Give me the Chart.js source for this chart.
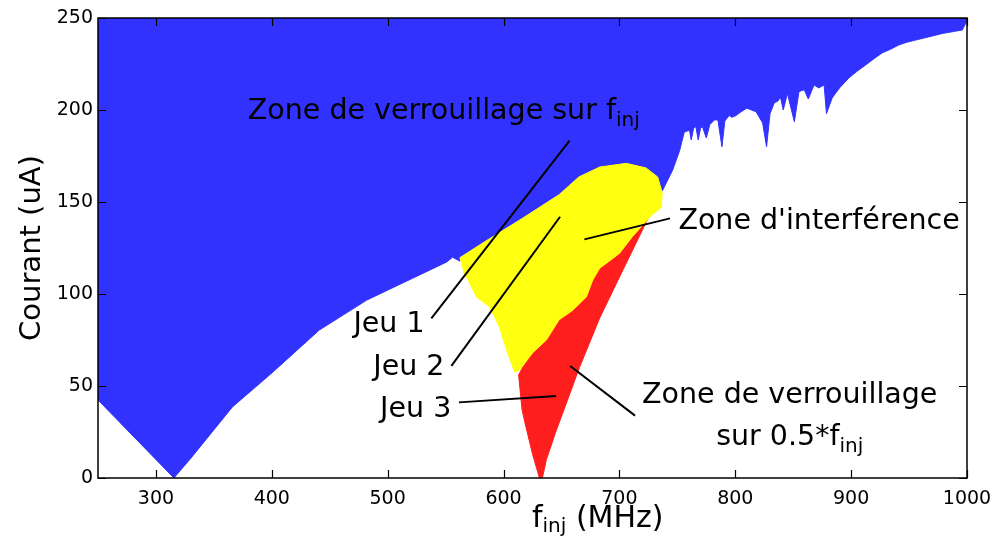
<!DOCTYPE html>
<html>
<head>
<meta charset="utf-8">
<script src="https://cdn.jsdelivr.net/npm/chart.js@4.4.1/dist/chart.umd.min.js"></script>
<style>
  html, body { margin: 0; padding: 0; background: #fff; }
</style>
</head>
<body>
<canvas id="myChart" width="997" height="541"></canvas>
<script>
const xTicks = [300, 400, 500, 600, 700, 800, 900, 1000];
const yTicks = [0, 50, 100, 150, 200, 250];

// bord inferieur de la zone de verrouillage sur f_inj (bleu, rempli jusqu'en haut)
const blueX = [250, 315.5, 331, 366, 401, 441, 482, 522, 551, 556, 562, 582, 616, 648, 680, 720, 737,
  746, 752, 756, 760.5, 762, 764, 766, 768, 770, 771.6, 775, 778, 782, 785, 788.5, 791, 794.8, 797, 800.6,
  805, 810, 818, 823.6, 827, 830, 833.6, 837, 839, 841.4, 845, 851, 855, 859.5, 863, 868, 872, 876.7,
  878.7, 883.6, 890, 898, 905, 912.6, 920, 926.7, 934, 941, 948, 955.7, 964, 972, 978.7, 988, 996, 999, 1000];
const blueY = [42.4, 0, 11.4, 38.6, 57.6, 80.4, 96.7, 108.7, 117.4, 120, 118, 125, 138, 150, 160, 160, 156,
  167.4, 178, 188, 189, 183.7, 190, 191, 183.7, 190, 191, 184.8, 192, 194.6, 194.6, 180, 194, 197, 196, 197,
  199, 201, 199, 193, 180, 198, 203.8, 205, 207, 200, 209, 193.6, 210, 211, 206, 213.6, 212, 213.6,
  198, 206.5, 212, 217.4, 221, 224.5, 228, 231, 233, 235.3, 236.8, 238, 239.3, 240.5, 241.6, 242.6, 243.5, 247.3, 248];

// zone d'interference (jaune)
const yellowX = [562, 582, 616, 648, 665, 683, 706, 723, 733, 737, 736, 728, 711, 700, 683, 677, 671.5,
  659.5, 648, 637, 625, 614, 609.5, 602.6, 596.5, 588, 576.7, 570.7, 565];
const yellowY = [119.6, 127.7, 141, 154, 163.6, 169, 171, 168.5, 163.6, 155, 147, 143, 131, 122, 114, 107.6, 98.4,
  91, 86, 75, 68, 58.7, 57.6, 69.6, 82, 93, 98.4, 106, 113];

// zone de verrouillage sur 0.5*f_inj (rouge)
const redX = [631, 625, 618.5, 616, 613, 650, 700, 727, 703, 683, 665.5, 655, 645, 637, 633.5];
const redY = [0, 13, 30, 37, 56, 100, 125, 144, 113, 87, 60, 42, 25, 10, 0];

// traits des annotations
const leaders = [
  [[657, 183.3], [537.7, 86.8]],
  [[648.8, 142], [555, 60.9]],
  [[561.5, 41.1], [645.4, 44.6]],
  [[669.8, 129.7], [743.7, 141.1]],
  [[657.5, 60.9], [713.5, 33.9]]
];

// textes des annotations
const labels = [
  { text: 'Zone de verrouillage sur f', sub: 'inj', x: 379.3, y: 195.1, align: 'left' },
  { text: 'Jeu 1', x: 531.9, y: 79.5, align: 'right' },
  { text: 'Jeu 2', x: 549, y: 56, align: 'right' },
  { text: 'Jeu 3', x: 554.9, y: 33.3, align: 'right' },
  { text: "Zone d'interférence", x: 750.9, y: 135.1, align: 'left' },
  { text: 'Zone de verrouillage', x: 847, y: 40.6, align: 'center' },
  { text: 'sur 0.5*f', sub: 'inj', x: 847, y: 17.9, align: 'center' }
];

const FONT = '"DejaVu Sans", Verdana, sans-serif';

let toPoints = (xs, ys) => xs.map((v, i) => ({ x: v, y: ys[i] }));

let drawParts = (ctx, parts, x, y, align) => {
  let widths = parts.map(p => {
    ctx.font = p.s + 'px ' + FONT;
    return ctx.measureText(p.t).width;
  });
  let total = widths.reduce((a, b) => a + b, 0);
  let left = align === 'left' ? x : align === 'right' ? x - total : x - total / 2;
  ctx.textAlign = 'left';
  ctx.textBaseline = 'alphabetic';
  parts.forEach((p, i) => {
    ctx.font = p.s + 'px ' + FONT;
    ctx.fillText(p.t, left, y + (p.dy || 0));
    left += widths[i];
  });
};

const decor = {
  id: 'decor',
  afterDatasetsDraw(chart) {
    const { ctx, scales: { x, y } } = chart;
    ctx.save();
    ctx.fillStyle = '#000';
    labels.forEach(l => {
      let parts = [{ t: l.text, s: 28.5 }];
      if (l.sub) parts.push({ t: l.sub, s: 20, dy: 7 });
      drawParts(ctx, parts, x.getPixelForValue(l.x), y.getPixelForValue(l.y), l.align);
    });
    ctx.restore();
  },
  afterDraw(chart) {
    const { ctx, chartArea: a, scales: { x, y } } = chart;
    ctx.save();
    ctx.strokeStyle = '#000';
    ctx.lineWidth = 1.2;
    ctx.beginPath();
    xTicks.forEach(v => {
      let px = Math.round(x.getPixelForValue(v)) + 0.5;
      ctx.moveTo(px, a.bottom); ctx.lineTo(px, a.bottom - 8);
      ctx.moveTo(px, a.top); ctx.lineTo(px, a.top + 8);
    });
    yTicks.forEach(v => {
      let py = Math.round(y.getPixelForValue(v)) + 0.5;
      ctx.moveTo(a.left, py); ctx.lineTo(a.left + 8, py);
      ctx.moveTo(a.right, py); ctx.lineTo(a.right - 8, py);
    });
    ctx.stroke();
    ctx.lineWidth = 1.5;
    ctx.strokeRect(a.left, a.top, a.right - a.left, a.bottom - a.top);

    // titres des axes
    ctx.fillStyle = '#000';
    drawParts(ctx, [{ t: 'f', s: 30 }, { t: 'inj', s: 20, dy: 5 }, { t: ' (MHz)', s: 30 }], 532, 527, 'left');
    ctx.translate(40, (a.top + a.bottom) / 2);
    ctx.rotate(-Math.PI / 2);
    drawParts(ctx, [{ t: 'Courant (uA)', s: 29 }], 0, 0, 'center');
    ctx.restore();
  }
};

let datasets = [
  {
    data: toPoints(blueX, blueY),
    backgroundColor: 'rgb(50, 50, 255)',
    borderColor: 'rgb(50, 50, 255)',
    borderWidth: 1,
    fill: 'end',
    order: 3
  },
  {
    data: toPoints(redX, redY),
    backgroundColor: 'rgb(255, 30, 30)',
    borderColor: 'rgb(255, 30, 30)',
    borderWidth: 1,
    fill: 'shape',
    order: 2
  },
  {
    data: toPoints(yellowX, yellowY),
    backgroundColor: 'rgb(255, 255, 16)',
    borderColor: 'rgb(255, 255, 16)',
    borderWidth: 1,
    fill: 'shape',
    order: 1
  }
];
leaders.forEach(seg => {
  datasets.push({
    data: seg.map(p => ({ x: p[0], y: p[1] })),
    borderColor: '#000',
    borderWidth: 2,
    fill: false,
    order: 0
  });
});
datasets.forEach(d => {
  d.showLine = true;
  d.pointRadius = 0;
  d.pointHoverRadius = 0;
  d.tension = 0;
});

const tickFont = { family: FONT, size: 19 };

const chart = new Chart(document.getElementById('myChart'), {
  type: 'scatter',
  data: { datasets: datasets },
  options: {
    responsive: false,
    animation: false,
    events: [],
    layout: { padding: { top: 18, right: 30, left: 0, bottom: 0 } },
    plugins: { legend: { display: false }, tooltip: { enabled: false } },
    scales: {
      x: {
        type: 'linear',
        min: 250,
        max: 1000,
        grid: { display: false, drawTicks: false },
        border: { display: false },
        ticks: { font: tickFont, color: '#000', padding: 10, maxRotation: 0, autoSkip: false,
          callback: v => String(v) },
        afterBuildTicks: s => { s.ticks = xTicks.map(v => ({ value: v })); },
        afterFit: s => { s.height = 63; s.paddingRight = 0; }
      },
      y: {
        type: 'linear',
        min: 0,
        max: 250,
        grid: { display: false, drawTicks: false },
        border: { display: false },
        ticks: { font: tickFont, color: '#000', padding: 5, autoSkip: false,
          callback: v => String(v) },
        afterBuildTicks: s => { s.ticks = yTicks.map(v => ({ value: v })); },
        afterFit: s => { s.width = 98; }
      }
    }
  },
  plugins: [decor]
});
</script>
</body>
</html>
